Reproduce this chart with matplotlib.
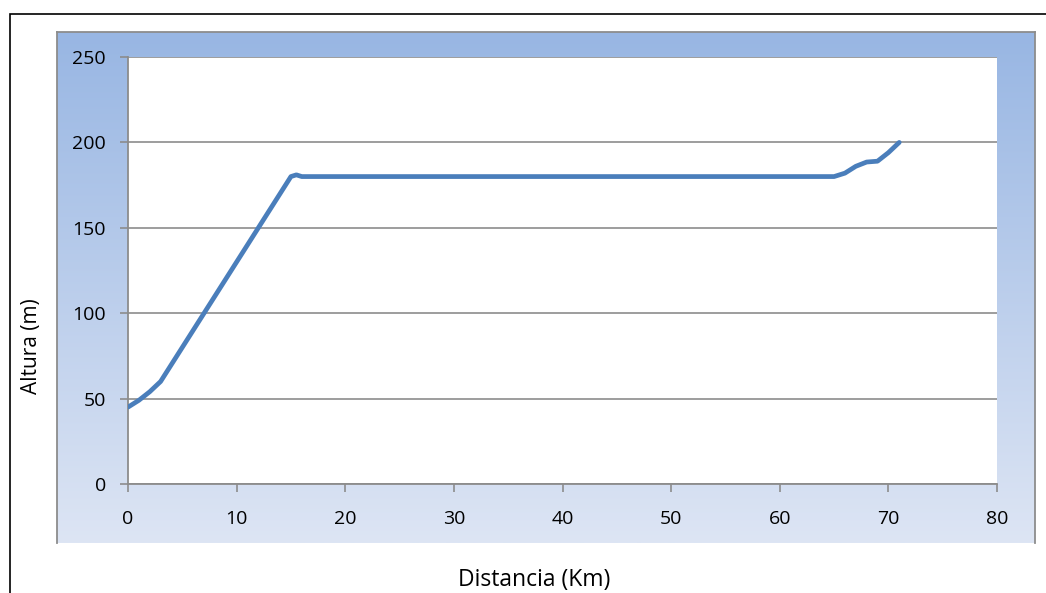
import numpy as np
import matplotlib.pyplot as plt
from matplotlib.patches import Rectangle

plt.rcParams['font.family'] = ['Open Sans', 'DejaVu Sans']

# Perfil de altura a lo largo del recorrido
distancia = [0, 1, 2, 3, 15, 15.5, 16, 64, 65, 66, 67, 68, 69, 70, 71]
altura = [45, 49, 54, 60, 180, 181, 180, 180, 180, 182, 186, 188.5, 189, 194, 200]

xticks = [0, 10, 20, 30, 40, 50, 60, 70, 80]
yticks = [0, 50, 100, 150, 200, 250]

W, H = 1046, 593
fig = plt.figure(figsize=(W / 100, H / 100), dpi=100)
fig.patch.set_facecolor('white')

# marco negro exterior
fig.patches.append(Rectangle((10 / W, -0.1), 1.2, 1 - 14 / H + 0.1,
                             transform=fig.transFigure, fill=False,
                             edgecolor='black', lw=1.2))

# panel con degradado azul
bg = fig.add_axes([57 / W, (H - 543) / H, 978 / W, 511 / H])
top = np.array([152, 182, 227]) / 255
bot = np.array([221, 229, 244]) / 255
t = np.linspace(0, 1, 256)[:, None]
grad = (top * (1 - t) + bot * t)[:, None, :]
bg.imshow(grad, aspect='auto', extent=[0, 1, 0, 1])
bg.set_xticks([])
bg.set_yticks([])
for s in ['left', 'top', 'right']:
    bg.spines[s].set_color('#8c8c8c')
    bg.spines[s].set_linewidth(1.3)
bg.spines['bottom'].set_visible(False)

# area del grafico
ax = fig.add_axes([128 / W, (H - 484) / H, 869 / W, 427 / H])
ax.set_facecolor('white')
ax.plot(distancia, altura, color='#4a7ebb', lw=3.4, solid_capstyle='round',
        solid_joinstyle='round', zorder=3)

ax.set_xlim(0, 80)
ax.set_ylim(0, 250)
ax.set_xticks(xticks)
ax.set_yticks(yticks)
ax.grid(axis='y', color='#8c8c8c', lw=1.2)
ax.set_axisbelow(True)
for s in ['top', 'right']:
    ax.spines[s].set_visible(False)
for s in ['left', 'bottom']:
    ax.spines[s].set_color('#8c8c8c')
    ax.spines[s].set_linewidth(1.3)
ax.tick_params(axis='y', direction='out', length=6, width=1.2, color='#8c8c8c',
               labelsize=14, pad=10)
ax.tick_params(axis='x', direction='out', length=6, width=1.2, color='#8c8c8c',
               labelsize=14, pad=13)

fig.text(534 / W, 1 - 580 / H, 'Distancia (Km)', ha='center', va='center',
         fontsize=16.5)
fig.text(32 / W, 1 - 346 / H, 'Altura (m)', ha='center', va='center',
         rotation=90, fontsize=15)

fig.savefig('out.png', dpi=100)
